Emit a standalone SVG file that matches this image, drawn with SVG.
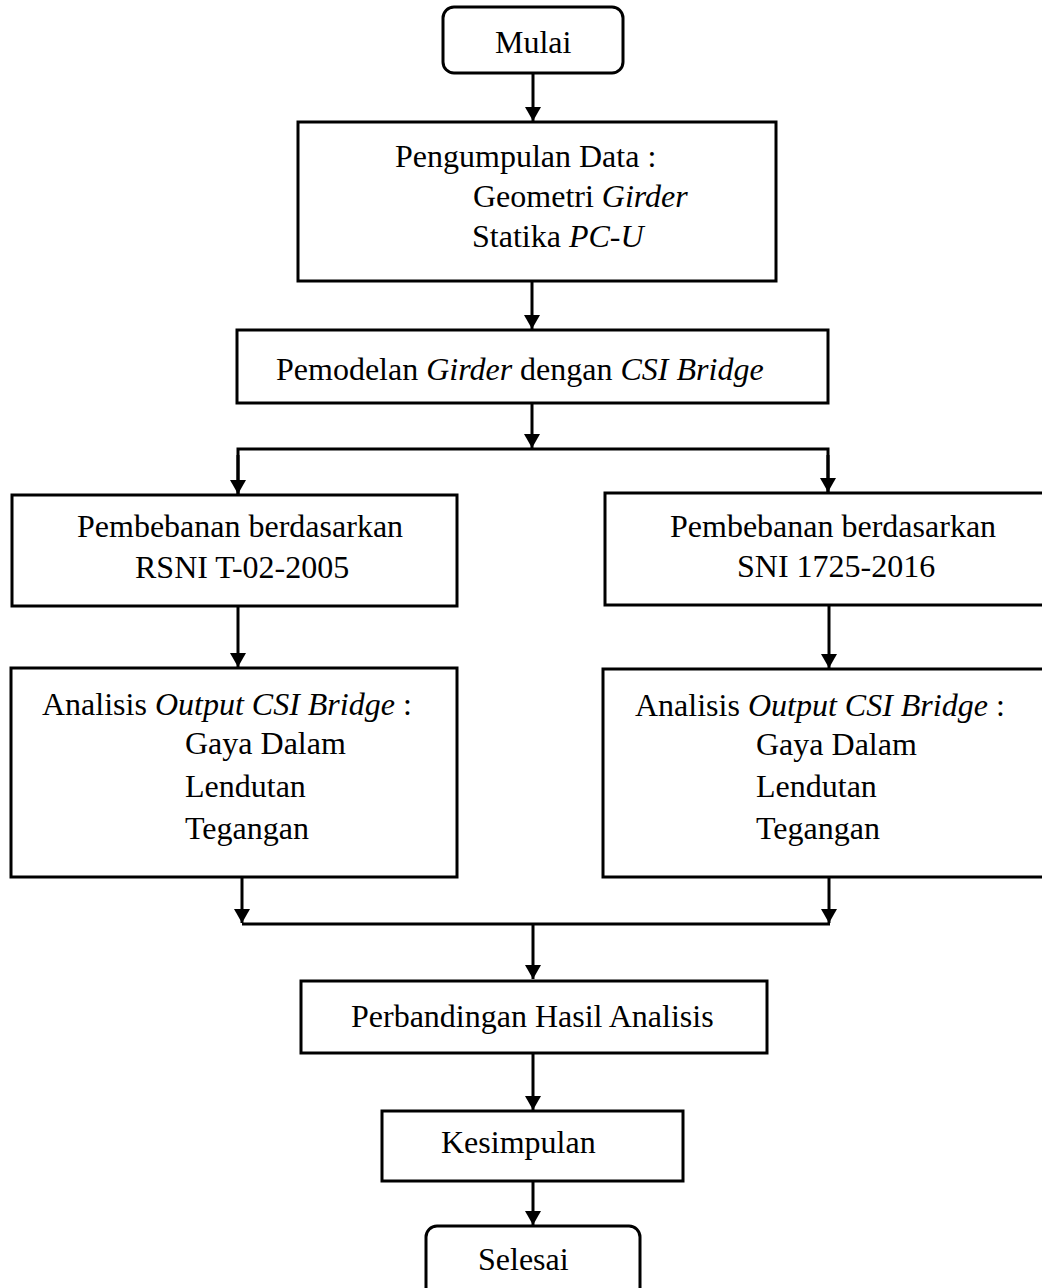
<svg xmlns="http://www.w3.org/2000/svg" width="1042" height="1288" viewBox="0 0 1042 1288">
<style>
  .box { fill: #fff; stroke: #000; stroke-width: 3; }
  .t { font-family: "Liberation Serif", "Times New Roman", serif; font-size: 32px; fill: #000; }
  .i { font-style: italic; }
  .c { fill: none; stroke: #000; stroke-width: 3; }
</style>
<defs>
  <marker id="ah" viewBox="0 0 14 16" refX="14" refY="8" markerWidth="14" markerHeight="16" markerUnits="userSpaceOnUse" orient="auto">
    <path d="M0,0 L14,8 L0,16 z" fill="#000"/>
  </marker>
</defs>
<rect width="1042" height="1288" fill="#fff"/>

<g id="connectors">
  <line class="c" x1="533" y1="73" x2="533" y2="121" marker-end="url(#ah)"/>
  <line class="c" x1="532" y1="281" x2="532" y2="329" marker-end="url(#ah)"/>
  <line class="c" x1="532" y1="403" x2="532" y2="448" marker-end="url(#ah)"/>
  <polyline class="c" points="238,494 238,449 828,449 828,492"/>
  <line class="c" x1="238" y1="455" x2="238" y2="494" marker-end="url(#ah)"/>
  <line class="c" x1="828" y1="455" x2="828" y2="492" marker-end="url(#ah)"/>
  <line class="c" x1="238" y1="606" x2="238" y2="667" marker-end="url(#ah)"/>
  <line class="c" x1="829" y1="605" x2="829" y2="668" marker-end="url(#ah)"/>
  <line class="c" x1="242" y1="877" x2="242" y2="923" marker-end="url(#ah)"/>
  <line class="c" x1="829" y1="877" x2="829" y2="923" marker-end="url(#ah)"/>
  <line class="c" x1="242" y1="924" x2="830" y2="924"/>
  <line class="c" x1="533" y1="924" x2="533" y2="979" marker-end="url(#ah)"/>
  <line class="c" x1="533" y1="1053" x2="533" y2="1110" marker-end="url(#ah)"/>
  <line class="c" x1="533" y1="1181" x2="533" y2="1225" marker-end="url(#ah)"/>
</g>

<g id="mulai">
  <rect class="box" x="443" y="7" width="180" height="66" rx="11" ry="11"/>
  <text class="t" x="495" y="53">Mulai</text>
</g>

<g id="pengumpulan">
  <rect class="box" x="298" y="122" width="478" height="159"/>
  <text class="t" x="395" y="167">Pengumpulan Data :</text>
  <text class="t" x="473" y="207">Geometri <tspan class="i">Girder</tspan></text>
  <text class="t" x="472" y="247">Statika <tspan class="i">PC-U</tspan></text>
</g>

<g id="pemodelan">
  <rect class="box" x="237" y="330" width="591" height="73"/>
  <text class="t" x="276" y="380">Pemodelan <tspan class="i">Girder</tspan> dengan <tspan class="i">CSI Bridge</tspan></text>
</g>

<g id="pembebanan-rsni">
  <rect class="box" x="12" y="495" width="445" height="111"/>
  <text class="t" x="77" y="537">Pembebanan berdasarkan</text>
  <text class="t" x="135" y="578">RSNI T-02-2005</text>
</g>

<g id="pembebanan-sni">
  <rect class="box" x="605" y="493" width="445" height="112"/>
  <text class="t" x="670" y="537">Pembebanan berdasarkan</text>
  <text class="t" x="737" y="577">SNI 1725-2016</text>
</g>

<g id="analisis-kiri">
  <rect class="box" x="11" y="668" width="446" height="209"/>
  <text class="t" x="42" y="715">Analisis <tspan class="i">Output CSI Bridge</tspan> :</text>
  <text class="t" x="185" y="754">Gaya Dalam</text>
  <text class="t" x="185" y="797">Lendutan</text>
  <text class="t" x="185" y="839">Tegangan</text>
</g>

<g id="analisis-kanan">
  <rect class="box" x="603" y="669" width="447" height="208"/>
  <text class="t" x="635" y="716">Analisis <tspan class="i">Output CSI Bridge</tspan> :</text>
  <text class="t" x="756" y="755">Gaya Dalam</text>
  <text class="t" x="756" y="797">Lendutan</text>
  <text class="t" x="756" y="839">Tegangan</text>
</g>

<g id="perbandingan">
  <rect class="box" x="301" y="981" width="466" height="72"/>
  <text class="t" x="351" y="1027">Perbandingan Hasil Analisis</text>
</g>

<g id="kesimpulan">
  <rect class="box" x="382" y="1111" width="301" height="70"/>
  <text class="t" x="441" y="1153">Kesimpulan</text>
</g>

<g id="selesai">
  <rect class="box" x="426" y="1226" width="214" height="80" rx="11" ry="11"/>
  <text class="t" x="478" y="1270">Selesai</text>
</g>
</svg>
